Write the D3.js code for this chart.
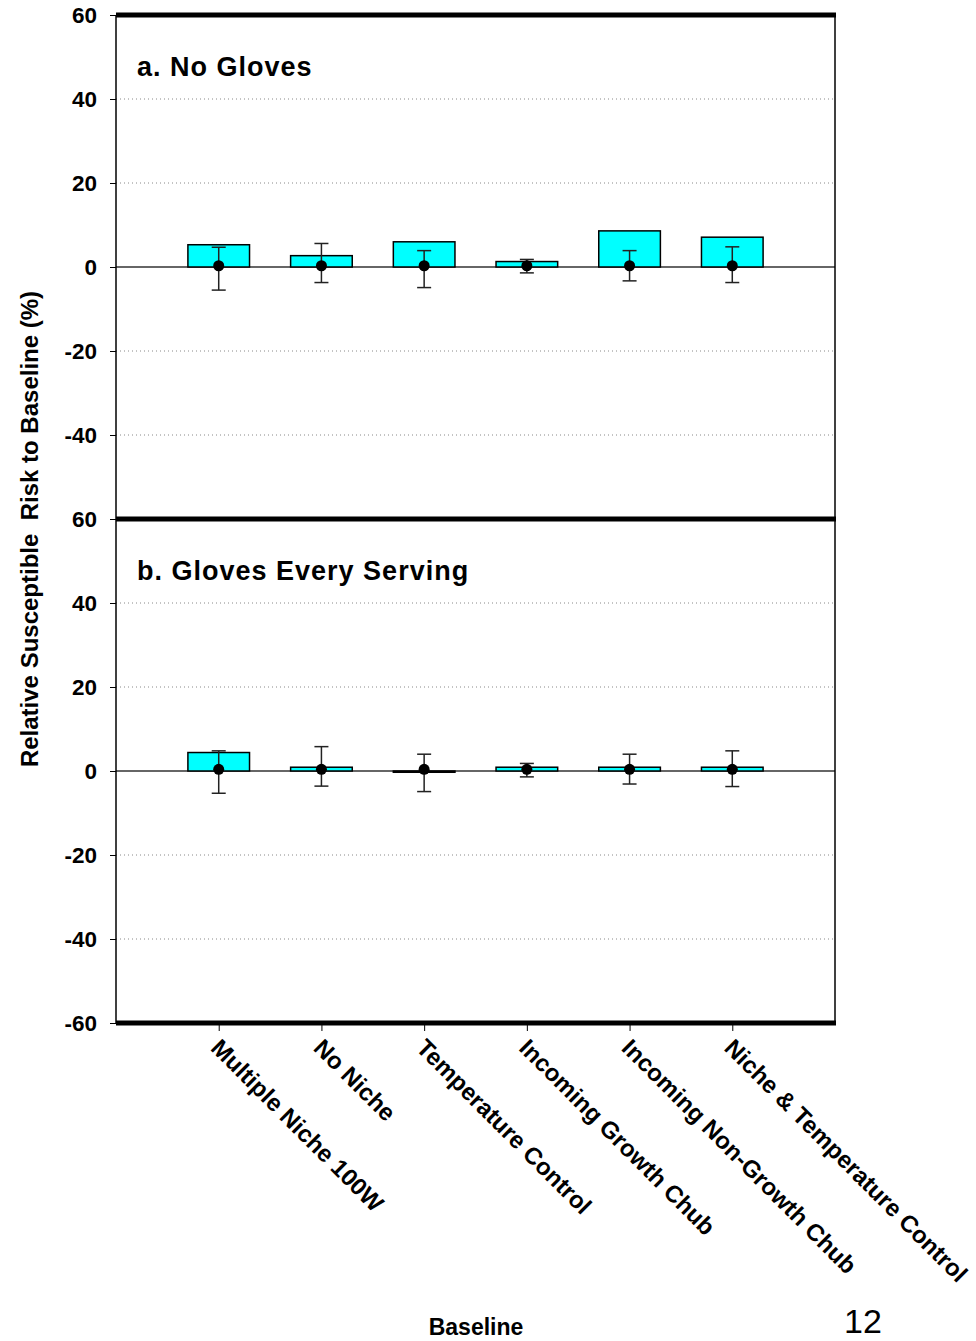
<!DOCTYPE html>
<html>
<head>
<meta charset="utf-8">
<script src="https://cdn.jsdelivr.net/npm/d3@7"></script>
<style>
  body { margin: 0; background: #fff; }
  text { font-family: "Liberation Sans", Arial, sans-serif; }
</style>
</head>
<body>
<div id="chart"></div>
<script>
// data
var categories = ["Multiple Niche 100W", "No Niche", "Temperature Control",
  "Incoming Growth Chub", "Incoming Non-Growth Chub", "Niche & Temperature Control"];
var panelTitles = ["a. No Gloves", "b. Gloves Every Serving"];

var barsNoGloves = [5.3, 2.7, 6.0, 1.3, 8.6, 7.1];
var meanNoGloves = [0.3, 0.3, 0.3, 0.3, 0.3, 0.3];
var hiNoGloves = [4.7, 5.6, 3.9, 1.8, 3.9, 4.8];
var loNoGloves = [-5.5, -3.7, -4.9, -1.4, -3.3, -3.7];

var barsGloves = [4.4, 0.9, -0.3, 0.9, 0.9, 0.9];
var meanGloves = [0.4, 0.4, 0.4, 0.4, 0.4, 0.4];
var hiGloves = [4.8, 5.8, 4.0, 1.8, 4.0, 4.8];
var loGloves = [-5.3, -3.6, -4.9, -1.4, -3.1, -3.7];

var topTicks = [60, 40, 20, 0, -20, -40];
var bottomTicks = [60, 40, 20, 0, -20, -40, -60];
var gridValues = [40, 20, -20, -40];

var svgWidth = 976;
var svgHeight = 1341;

var margin = { left: 116, right: 141 };
var plotLeft = margin.left;
var plotRight = svgWidth - margin.right;

var svg = d3.select("#chart")
  .append("svg")
  .attr("width", svgWidth)
  .attr("height", svgHeight);

var xScale = d3.scalePoint()
  .domain(["_start"].concat(categories).concat(["_end"]))
  .range([plotLeft, plotRight]);
var step = xScale.step();
var barWidth = step * 0.6;

var panels = [
  { title: panelTitles[0], top: 15, bottom: 519, bars: barsNoGloves, mean: meanNoGloves,
    hi: hiNoGloves, lo: loNoGloves, ticks: topTicks },
  { title: panelTitles[1], top: 519, bottom: 1023, bars: barsGloves, mean: meanGloves,
    hi: hiGloves, lo: loGloves, ticks: bottomTicks }
];

panels.forEach(function(p) {
  var y = d3.scaleLinear().domain([-60, 60]).range([p.bottom, p.top]);
  var g = svg.append("g");

  // dotted grid
  g.selectAll(".grid")
    .data(gridValues)
    .enter()
    .append("line")
    .attr("x1", plotLeft).attr("x2", plotRight)
    .attr("y1", d => y(d)).attr("y2", d => y(d))
    .attr("stroke", "#888")
    .attr("stroke-width", 1)
    .attr("stroke-dasharray", "1,3");

  // zero line
  g.append("line")
    .attr("x1", plotLeft).attr("x2", plotRight)
    .attr("y1", y(0)).attr("y2", y(0))
    .attr("stroke", "#333")
    .attr("stroke-width", 1.3);

  // left axis
  var leftAxis = d3.axisLeft(y).tickValues(p.ticks).tickSize(6).tickFormat(d => String(d));
  var ax = g.append("g")
    .attr("transform", `translate(${plotLeft},0)`)
    .call(leftAxis);
  ax.select(".domain").remove();
  ax.selectAll(".tick line").attr("stroke", "#000");
  ax.selectAll(".tick text")
    .attr("x", -19)
    .style("font-size", "22.5px")
    .style("font-weight", "bold")
    .style("font-family", "'Liberation Sans', Arial, sans-serif")
    .attr("fill", "#000");

  // bars
  g.selectAll(".bar")
    .data(p.bars)
    .enter()
    .append("rect")
    .attr("x", (d, i) => xScale(categories[i]) - barWidth / 2)
    .attr("y", d => y(Math.max(0, d)))
    .attr("width", barWidth)
    .attr("height", d => Math.max(1, Math.abs(y(d) - y(0))))
    .attr("fill", "#00ffff")
    .attr("stroke", "#000")
    .attr("stroke-width", 1.5);

  // error bars
  var err = g.selectAll(".err")
    .data(categories)
    .enter()
    .append("g")
    .attr("stroke", "#222")
    .attr("stroke-width", 1.5);
  err.append("line")
    .attr("x1", d => xScale(d)).attr("x2", d => xScale(d))
    .attr("y1", (d, i) => y(p.hi[i])).attr("y2", (d, i) => y(p.lo[i]));
  err.append("line")
    .attr("x1", d => xScale(d) - 7).attr("x2", d => xScale(d) + 7)
    .attr("y1", (d, i) => y(p.hi[i])).attr("y2", (d, i) => y(p.hi[i]));
  err.append("line")
    .attr("x1", d => xScale(d) - 7).attr("x2", d => xScale(d) + 7)
    .attr("y1", (d, i) => y(p.lo[i])).attr("y2", (d, i) => y(p.lo[i]));

  // mean points
  g.selectAll(".dot")
    .data(p.mean)
    .enter()
    .append("circle")
    .attr("cx", (d, i) => xScale(categories[i]))
    .attr("cy", d => y(d))
    .attr("r", 5.5)
    .attr("fill", "#000");

  // frame
  g.append("line")
    .attr("x1", plotLeft).attr("x2", plotLeft)
    .attr("y1", p.top).attr("y2", p.bottom)
    .attr("stroke", "#000").attr("stroke-width", 1.5);
  g.append("line")
    .attr("x1", plotRight).attr("x2", plotRight)
    .attr("y1", p.top).attr("y2", p.bottom)
    .attr("stroke", "#000").attr("stroke-width", 1.5);

  g.append("text")
    .attr("x", plotLeft + 21)
    .attr("y", p.top + 61)
    .style("font-size", "27px")
    .style("font-weight", "bold")
    .style("letter-spacing", "1px")
    .text(p.title);
});

// heavy horizontal rules
svg.selectAll(".rule")
  .data([15, 519, 1023])
  .enter()
  .append("line")
  .attr("x1", plotLeft).attr("x2", plotRight + 1)
  .attr("y1", d => d).attr("y2", d => d)
  .attr("stroke", "#000")
  .attr("stroke-width", 5);

// x axis ticks and labels
var bottomAxis = d3.axisBottom(xScale).tickValues(categories).tickSize(6).tickFormat("");
var xg = svg.append("g")
  .attr("transform", "translate(0,1025)")
  .call(bottomAxis);
xg.select(".domain").remove();
xg.selectAll(".tick line").attr("stroke", "#000");

svg.selectAll(".xlabel")
  .data(categories)
  .enter()
  .append("text")
  .attr("transform", d => `translate(${xScale(d) + 3},${1037}) rotate(45)`)
  .attr("dy", "0.72em")
  .style("font-size", "24px")
  .style("font-weight", "bold")
  .text(d => d);

// y axis title
svg.append("text")
  .attr("transform", "translate(38,529) rotate(-90)")
  .attr("text-anchor", "middle")
  .style("font-size", "24px")
  .style("font-weight", "bold")
  .style("white-space", "pre")
  .text("Relative Susceptible  Risk to Baseline (%)");

svg.append("text")
  .attr("x", 476)
  .attr("y", 1335)
  .attr("text-anchor", "middle")
  .style("font-size", "23px")
  .style("font-weight", "bold")
  .text("Baseline");

svg.append("text")
  .attr("x", 863)
  .attr("y", 1333)
  .attr("text-anchor", "middle")
  .style("font-size", "34px")
  .text("12");
</script>
</body>
</html>
